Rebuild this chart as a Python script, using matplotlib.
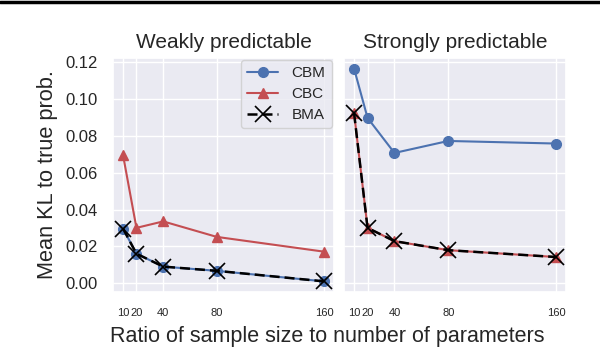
import matplotlib
matplotlib.use("Agg")
import matplotlib.pyplot as plt
import seaborn as sns
from matplotlib.lines import Line2D

sns.set_theme(style="darkgrid")
plt.rcParams['font.family'] = ['Liberation Sans', 'DejaVu Sans']

ratios = [10, 20, 40, 80, 160]
tick_labels = ["10", "20", "40", "80", "160"]

weak_cbm = [0.0297, 0.0161, 0.0091, 0.0068, 0.0011]
weak_cbc = [0.0695, 0.0301, 0.0336, 0.0252, 0.0172]
weak_bma = [0.0297, 0.0161, 0.0091, 0.0068, 0.0011]

strong_cbm = [0.1164, 0.0897, 0.0707, 0.0772, 0.0758]
strong_cbc = [0.0922, 0.0301, 0.0229, 0.0180, 0.0143]
strong_bma = [0.0922, 0.0301, 0.0229, 0.0180, 0.0143]

blue = '#4C72B0'
red = '#C44E52'

fig = plt.figure(figsize=(6.0, 3.48), dpi=100)
ax1 = fig.add_axes([113/600, 56/348, 221/600, 234/348])
ax2 = fig.add_axes([344/600, 56/348, 222/600, 234/348], sharey=ax1)

panels = [(ax1, "Weakly predictable", weak_cbm, weak_cbc, weak_bma),
          (ax2, "Strongly predictable", strong_cbm, strong_cbc, strong_bma)]

for ax, title, cbm, cbc, bma in panels:
    ax.plot(ratios, cbm, color=blue, marker='o', markersize=7, lw=1.5, label='CBM')
    ax.plot(ratios, cbc, color=red, marker='^', markersize=7, lw=1.5, label='CBC')
    ax.plot(ratios, bma, color='black', marker='x', markersize=12, markeredgewidth=1.2,
            lw=1.8, linestyle=(0, (4, 2)), label='BMA')
    ax.set_title(title, fontsize=15, color='#262626', pad=7)
    ax.set_xticks(ratios)
    ax.set_xticklabels(tick_labels, fontsize=8)
    ax.tick_params(axis='x', pad=5.5, colors='#262626')

ax1.set_yticks([0.0, 0.02, 0.04, 0.06, 0.08, 0.10, 0.12])
ax1.set_yticklabels(["0.00", "0.02", "0.04", "0.06", "0.08", "0.10", "0.12"], fontsize=12)
ax1.tick_params(axis='y', pad=5, colors='#262626')
plt.setp(ax2.get_yticklabels(), visible=False)
ax1.set_ylabel("Mean KL to true prob.", fontsize=15.7, color='#262626', labelpad=5)

leg = ax1.legend(loc='upper right', fontsize=11, frameon=True, handlelength=2.0,
                 borderaxespad=0.15, labelspacing=0.45, handletextpad=0.9)

fig.text(327.5 / 600, 0.003, "Ratio of sample size to number of parameters",
         ha='center', va='bottom', fontsize=15.5, color='#262626')

fig.add_artist(Line2D([0, 1], [1 - 1.5/348, 1 - 1.5/348], transform=fig.transFigure,
                      color='black', lw=2.5))

fig.savefig("out.png", dpi=100, facecolor='white')
